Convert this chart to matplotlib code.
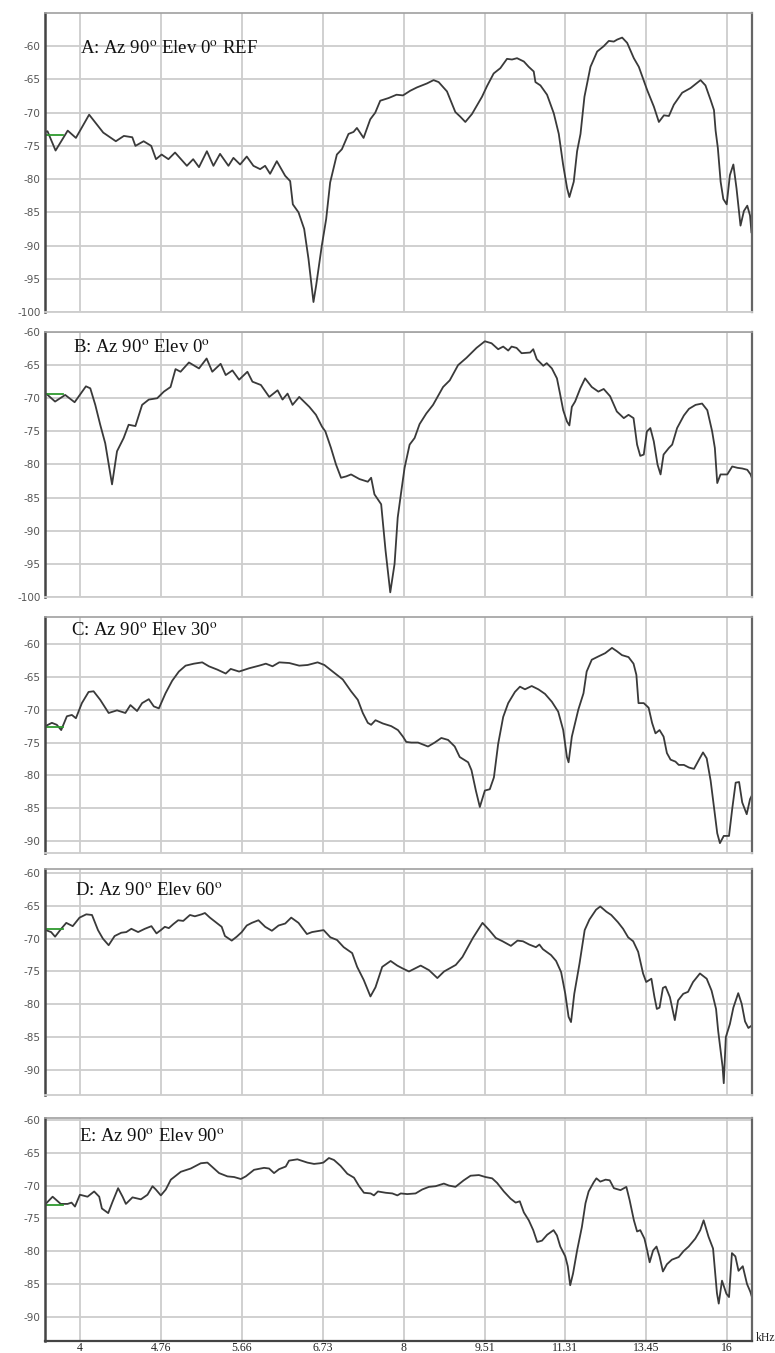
import matplotlib
matplotlib.use("Agg")
import matplotlib.pyplot as plt

# ---------------- data (frequency in kHz, level in dB) ----------------
freq_a = [3.711, 3.732, 3.797, 3.897, 3.966, 4.080, 4.205, 4.320, 4.395, 4.475, 4.505, 4.585,
          4.660, 4.708, 4.765, 4.835, 4.904, 5.030, 5.098, 5.162, 5.250, 5.324, 5.400, 5.498,
          5.557, 5.637, 5.718, 5.800, 5.884, 5.947, 6.011, 6.098, 6.208, 6.275, 6.311, 6.388,
          6.466, 6.526, 6.596, 6.634, 6.715, 6.778, 6.836, 6.935, 7.010, 7.110, 7.187, 7.239,
          7.343, 7.449, 7.529, 7.610, 7.747, 7.880, 7.990, 8.115, 8.232, 8.411, 8.531, 8.624,
          8.779, 8.937, 9.032, 9.131, 9.262, 9.463, 9.565, 9.702, 9.842, 9.983, 10.091, 10.20,
          10.35, 10.458, 10.571, 10.61, 10.724, 10.877, 11.035, 11.154, 11.257, 11.355, 11.41,
          11.517, 11.60, 11.685, 11.784, 11.937, 12.109, 12.28, 12.415, 12.549, 12.64, 12.775,
          12.913, 13.098, 13.239, 13.478, 13.673, 13.82, 13.97, 14.12, 14.27, 14.527, 14.79,
          15.11, 15.27, 15.44, 15.55, 15.605, 15.68, 15.774, 15.865, 15.98, 16.09, 16.21, 16.32,
          16.46, 16.58, 16.70, 16.80, 16.85]
db_a = [-72.9, -72.8, -75.7, -72.7, -73.8, -70.3, -73.0, -74.3, -73.5, -73.7, -75.0, -74.3,
        -75.0, -77.0, -76.3, -77.0, -76.0, -78.0, -77.0, -78.2, -75.8, -78.0, -76.2, -78.0,
        -76.8, -77.8, -76.6, -78.0, -78.5, -78.0, -79.2, -77.3, -79.5, -80.3, -83.8, -85.0,
        -87.5, -92.0, -98.5, -96.0, -90.0, -86.0, -80.5, -76.3, -75.5, -73.2, -72.9, -72.3,
        -73.8, -71.0, -70.0, -68.2, -67.8, -67.3, -67.4, -66.7, -66.2, -65.6, -65.1, -65.4,
        -66.8, -69.9, -70.6, -71.4, -70.2, -67.6, -66.0, -64.1, -63.3, -61.9, -62.0, -61.8,
        -62.3, -63.1, -63.8, -65.4, -65.9, -67.3, -70.1, -73.2, -77.8, -81.4, -82.7,
        -80.4, -75.8, -73.2, -67.6, -63.1, -60.8, -60.0, -59.2, -59.3, -59.0, -58.7,
        -59.5, -61.8, -63.1, -66.6, -69.1, -71.4, -70.4, -70.5, -68.8, -67.0, -66.3,
        -65.1, -65.9, -68.1, -69.6, -72.7, -75.3, -80.4, -83.0, -83.8, -79.4, -77.8, -81.4,
        -87.0, -84.8, -84.0, -85.5, -88.0]

freq_b = [3.727, 3.793, 3.876, 3.955, 4.052, 4.090, 4.134, 4.178, 4.223, 4.285, 4.331, 4.393,
          4.440, 4.505, 4.570, 4.636, 4.720, 4.788, 4.857, 4.909, 4.962, 5.052, 5.162, 5.247,
          5.311, 5.407, 5.466, 5.545, 5.625, 5.726, 5.788, 5.894, 6.000, 6.108, 6.173, 6.240,
          6.307, 6.398, 6.538, 6.631, 6.718, 6.766, 6.848, 6.922, 6.997, 7.073, 7.149, 7.279,
          7.410, 7.463, 7.516, 7.625, 7.697, 7.775, 7.847, 7.900, 7.960, 8.017, 8.104, 8.191,
          8.279, 8.399, 8.521, 8.706, 8.831, 8.990, 9.153, 9.352, 9.521, 9.658, 9.796, 9.902,
          10.009, 10.082, 10.19, 10.30, 10.49, 10.56, 10.64, 10.79, 10.87, 10.99, 11.11, 11.18,
          11.26, 11.35, 11.41, 11.47, 11.55, 11.68, 11.80, 11.97, 12.14, 12.28, 12.45, 12.63,
          12.82, 12.95, 13.09, 13.19, 13.28, 13.38, 13.47, 13.57, 13.67, 13.78, 13.87, 13.96,
          14.12, 14.22, 14.37, 14.58, 14.74, 14.95, 15.16, 15.33, 15.49, 15.58, 15.66, 15.77,
          16.00, 16.17, 16.35, 16.52, 16.70, 16.82, 16.88]
db_b = [-69.4, -70.5, -69.5, -70.6, -68.2, -68.5, -71.0, -74.0, -76.8, -83.0, -78.0, -76.0,
        -74.0, -74.2, -71.0, -70.2, -70.0, -69.0, -68.3, -65.6, -66.0, -64.6, -65.5, -64.0,
        -66.0, -64.8, -66.5, -65.8, -67.2, -66.0, -67.5, -68.0, -69.8, -68.8, -70.2, -69.3,
        -71.0, -69.8, -71.3, -72.5, -74.3, -75.0, -77.5, -80.0, -82.0, -81.8, -81.5, -82.2,
        -82.6, -82.0, -84.5, -86.0, -93.0, -99.3, -95.0, -88.0, -84.1, -80.5, -77.0, -76.0,
        -73.9, -72.3, -71.0, -68.3, -67.3, -65.0, -63.9, -62.4, -61.4, -61.7, -62.6, -62.2,
        -62.8, -62.2, -62.4, -63.2, -63.1, -62.6, -64.1, -65.1, -64.7, -65.5, -67.0, -69.2,
        -71.8, -73.5, -74.1, -71.3, -70.5, -68.5, -67.0, -68.3, -69.0, -68.6, -69.7, -72.0,
        -73.0, -72.5, -73.0, -77.0, -78.7, -78.5, -75.0, -74.5, -76.5, -80.0, -81.5, -78.5,
        -77.5, -77.0, -74.5, -72.6, -71.6, -71.0, -70.8, -71.8, -75.0, -77.5, -82.8, -81.5,
        -81.5, -80.3, -80.5, -80.6, -80.8, -81.5, -82.2]

freq_c = [3.715, 3.767, 3.807, 3.843, 3.890, 3.932, 3.966, 4.017, 4.075, 4.119, 4.178, 4.254,
          4.331, 4.409, 4.457, 4.521, 4.570, 4.636, 4.686, 4.737, 4.805, 4.874, 4.944, 5.016,
          5.106, 5.198, 5.273, 5.368, 5.466, 5.525, 5.625, 5.747, 5.872, 5.957, 6.042, 6.130,
          6.263, 6.398, 6.514, 6.655, 6.752, 6.873, 7.023, 7.149, 7.253, 7.331, 7.410, 7.463,
          7.533, 7.653, 7.791, 7.904, 7.989, 8.046, 8.133, 8.251, 8.430, 8.551, 8.674, 8.800,
          8.926, 9.022, 9.186, 9.252, 9.339, 9.419, 9.521, 9.622, 9.707, 9.796, 9.902, 10.009,
          10.154, 10.264, 10.375, 10.525, 10.676, 10.83, 10.99, 11.14, 11.26, 11.35, 11.39,
          11.47, 11.63, 11.76, 11.84, 11.97, 12.14, 12.32, 12.50, 12.63, 12.77, 12.95, 13.09,
          13.17, 13.23, 13.38, 13.52, 13.62, 13.72, 13.84, 13.96, 14.06, 14.17, 14.32, 14.42,
          14.58, 14.74, 14.90, 15.06, 15.19, 15.31, 15.44, 15.55, 15.66, 15.75, 15.88, 16.06,
          16.17, 16.29, 16.41, 16.52, 16.68, 16.80, 16.86]
db_c = [-72.5, -72.0, -72.3, -73.1, -71.0, -70.8, -71.3, -69.0, -67.3, -67.2, -68.5, -70.5,
        -70.1, -70.5, -69.3, -70.2, -69.0, -68.4, -69.5, -69.8, -67.5, -65.6, -64.2, -63.3,
        -63.0, -62.8, -63.4, -63.9, -64.5, -63.8, -64.2, -63.7, -63.3, -63.0, -63.4, -62.8,
        -62.9, -63.3, -63.2, -62.8, -63.2, -64.2, -65.4, -67.2, -68.5, -70.5, -72.0, -72.3,
        -71.6, -72.1, -72.5, -73.1, -74.1, -74.9, -75.0, -75.0, -75.6, -75.0, -74.3, -74.6,
        -75.6, -77.2, -78.0, -79.2, -82.3, -84.8, -82.3, -82.1, -80.3, -75.2, -71.1, -69.0,
        -67.3, -66.5, -66.9, -66.4, -66.9, -67.6, -68.8, -70.3, -73.1, -77.2, -78.0,
        -74.1, -70.0, -67.5, -64.2, -62.4, -61.9, -61.4, -60.6, -61.1, -61.7, -62.0, -63.0,
        -64.7, -69.0, -69.0, -69.7, -72.0, -73.6, -73.1, -74.1, -76.6, -77.6, -77.9, -78.4,
        -78.4, -78.8, -79.0, -77.6, -76.5, -77.4, -80.8, -84.8, -88.8, -90.3, -89.2, -89.2,
        -85.1, -81.1, -81.0, -84.1, -85.9, -83.6, -83.1]

freq_d = [3.718, 3.761, 3.793, 3.843, 3.885, 3.939, 3.997, 4.055, 4.105, 4.158, 4.202, 4.254,
          4.309, 4.371, 4.418, 4.466, 4.531, 4.597, 4.662, 4.713, 4.757, 4.798, 4.839, 4.885,
          4.937, 4.991, 5.063, 5.117, 5.191, 5.228, 5.284, 5.361, 5.419, 5.457, 5.537, 5.597,
          5.657, 5.718, 5.780, 5.863, 5.948, 6.034, 6.121, 6.209, 6.289, 6.388, 6.504, 6.576,
          6.741, 6.839, 6.937, 7.037, 7.166, 7.243, 7.346, 7.452, 7.533, 7.642, 7.781, 7.892,
          7.976, 8.093, 8.298, 8.448, 8.600, 8.724, 8.946, 9.074, 9.280, 9.473, 9.610, 9.747,
          9.889, 10.067, 10.21, 10.33, 10.47, 10.62, 10.70, 10.78, 10.97, 11.09, 11.21, 11.31,
          11.39, 11.45, 11.53, 11.66, 11.79, 11.91, 12.08, 12.19, 12.35, 12.48, 12.66, 12.80,
          12.94, 13.08, 13.22, 13.36, 13.45, 13.60, 13.69, 13.76, 13.84, 13.94, 14.02, 14.15,
          14.25, 14.30, 14.40, 14.56, 14.71, 14.87, 15.09, 15.31, 15.47, 15.62, 15.69, 15.77,
          15.84, 15.88, 15.95, 16.09, 16.21, 16.38, 16.50, 16.62, 16.74, 16.90]
db_d = [-68.7, -69.0, -69.7, -68.5, -67.6, -68.1, -66.8, -66.3, -66.4, -68.7, -70.0, -71.0,
        -69.6, -69.1, -69.0, -68.5, -69.0, -68.5, -68.1, -69.2, -68.7, -68.2, -68.4, -67.8,
        -67.2, -67.3, -66.4, -66.6, -66.3, -66.1, -66.8, -67.6, -68.2, -69.6, -70.3, -69.7,
        -69.0, -68.0, -67.6, -67.2, -68.2, -68.8, -68.0, -67.7, -66.8, -67.6, -69.3, -69.0,
        -68.7, -69.8, -70.2, -71.3, -72.2, -74.3, -76.3, -78.8, -77.4, -74.3, -73.4, -74.1,
        -74.5, -75.0, -74.1, -74.8, -76.0, -75.0, -74.0, -72.8, -69.9, -67.6, -68.7, -69.9,
        -70.4, -71.1, -70.3, -70.4, -70.9, -71.3, -70.9, -71.6, -72.5, -73.4, -75.1, -78.4,
        -81.9, -82.7, -78.4, -73.8, -68.7, -67.1, -65.6, -65.1, -65.9, -66.4, -67.5, -68.5,
        -69.8, -70.4, -72.0, -75.3, -76.6, -76.1, -78.9, -80.7, -80.5, -77.5, -77.3, -78.9,
        -81.2, -82.4, -79.4, -78.4, -78.1, -76.6, -75.3, -76.1, -77.9, -80.7, -84.0, -87.0,
        -89.5, -92.0, -85.0, -83.0, -80.5, -78.3, -79.9, -82.6, -83.6, -83.1]

freq_e = [3.717, 3.773, 3.839, 3.896, 3.929, 3.958, 4.000, 4.066, 4.124, 4.169, 4.193, 4.250,
          4.289, 4.341, 4.383, 4.414, 4.477, 4.558, 4.623, 4.673, 4.706, 4.757, 4.808, 4.860,
          4.965, 5.072, 5.182, 5.256, 5.331, 5.389, 5.486, 5.565, 5.646, 5.706, 5.808, 5.934,
          5.998, 6.062, 6.128, 6.216, 6.260, 6.373, 6.511, 6.604, 6.689, 6.737, 6.818, 6.892,
          6.990, 7.092, 7.194, 7.273, 7.349, 7.455, 7.508, 7.572, 7.699, 7.810, 7.894, 7.952,
          8.063, 8.208, 8.325, 8.446, 8.567, 8.721, 8.815, 8.940, 9.100, 9.234, 9.400, 9.534,
          9.671, 9.774, 9.916, 10.06, 10.17, 10.26, 10.35, 10.46, 10.56, 10.65, 10.76, 10.88,
          11.03, 11.11, 11.19, 11.31, 11.37, 11.43, 11.50, 11.60, 11.72, 11.81, 11.89, 12.02,
          12.09, 12.19, 12.33, 12.44, 12.55, 12.73, 12.89, 12.98, 13.10, 13.19, 13.28, 13.40,
          13.47, 13.55, 13.65, 13.75, 13.84, 13.94, 14.06, 14.21, 14.42, 14.57, 14.73, 14.94,
          15.10, 15.21, 15.37, 15.52, 15.60, 15.65, 15.71, 15.82, 15.97, 16.06, 16.16, 16.28,
          16.39, 16.54, 16.69, 16.81, 16.89]
db_e = [-72.8, -71.7, -72.8, -72.8, -72.6, -73.2, -71.4, -71.7, -70.9, -71.7, -73.5, -74.2,
        -72.5, -70.4, -71.7, -72.8, -71.8, -72.1, -71.4, -70.1, -70.6, -71.5, -70.6, -69.1,
        -67.9, -67.4, -66.6, -66.5, -67.4, -68.1, -68.6, -68.7, -69.0, -68.6, -67.6, -67.3,
        -67.4, -68.1, -67.5, -67.1, -66.2, -66.0, -66.5, -66.7, -66.6, -66.5, -65.8, -66.1,
        -67.0, -68.2, -68.8, -70.1, -71.1, -71.2, -71.5, -70.9, -71.1, -71.2, -71.5, -71.2,
        -71.3, -71.2, -70.6, -70.2, -70.1, -69.7, -70.0, -70.2, -69.2, -68.5, -68.4, -68.7,
        -68.9, -69.6, -70.9, -72.0, -72.6, -72.4, -74.1, -75.3, -76.8, -78.6, -78.4, -77.5,
        -76.8, -77.6, -79.3, -80.8, -82.3, -85.2, -83.4, -79.9, -76.3, -72.7, -70.9, -69.5,
        -68.9, -69.4, -69.1, -69.2, -70.4, -70.7, -70.2, -72.2, -75.3, -77.0, -76.8, -78.1,
        -79.7, -81.7, -79.9, -79.3, -80.8, -83.1, -82.0, -81.3, -80.9, -80.0, -79.3, -78.1,
        -76.8, -75.3, -77.8, -79.6, -83.9, -86.4, -88.0, -84.5, -86.5, -87.0, -80.3, -80.8,
        -83.0, -82.3, -85.0, -86.2, -87.3]

panel_freqs = [freq_a, freq_b, freq_c, freq_d, freq_e]
panel_dbs = [db_a, db_b, db_c, db_d, db_e]
titles = [r"A: Az 90$^{\mathrm{o}}$ Elev 0$^{\mathrm{o}}$ REF",
          r"B: Az 90$^{\mathrm{o}}$ Elev 0$^{\mathrm{o}}$",
          r"C: Az 90$^{\mathrm{o}}$ Elev 30$^{\mathrm{o}}$",
          r"D: Az 90$^{\mathrm{o}}$ Elev 60$^{\mathrm{o}}$",
          r"E: Az 90$^{\mathrm{o}}$ Elev 90$^{\mathrm{o}}$"]
green_levels = [-73.3, -69.3, -72.7, -68.5, -72.9]
green_span = [3.712, 3.86]
ylims = [(-100, -55), (-100, -60), (-91.8, -55.9), (-93.8, -59.4), (-93.7, -59.7)]
yticks = [[-100, -95, -90, -85, -80, -75, -70, -65, -60],
          [-100, -95, -90, -85, -80, -75, -70, -65, -60],
          [-90, -85, -80, -75, -70, -65, -60],
          [-90, -85, -80, -75, -70, -65, -60],
          [-90, -85, -80, -75, -70, -65, -60]]
xticks = [4, 4.757, 5.657, 6.727, 8, 9.514, 11.314, 13.454, 16]
xticklabels = ["4", "4.76", "5.66", "6.73", "8", "9.51", "11.31", "13.45", "16"]
xlim = (3.712, 16.87)

# ---------------- layout (pixels) ----------------
W, H = 775, 1353
left_px, right_px = 45, 752
panel_tb = [(13, 312), (332, 597), (617, 853), (869, 1095), (1118, 1341)]
title_pos = [(80, 54), (73, 353), (71, 636), (75, 896), (79, 1142)]

plt.rcParams["mathtext.fontset"] = "stix"
fig = plt.figure(figsize=(W / 100, H / 100), dpi=100)
fig.patch.set_facecolor("white")

for i in range(5):
    top, bot = panel_tb[i]
    ax = fig.add_axes([left_px / W, 1 - bot / H, (right_px - left_px) / W, (bot - top) / H])
    ax.set_xscale("log")
    ax.set_xlim(*xlim)
    ax.set_ylim(*ylims[i])
    ax.set_axisbelow(True)
    ax.set_xticks(xticks)
    ax.xaxis.set_minor_locator(matplotlib.ticker.NullLocator())
    ax.set_yticks(yticks[i])
    ax.set_yticklabels([str(v) for v in yticks[i]], fontsize=7.5, color="#555555",
                       family="DejaVu Sans")
    ax.tick_params(axis="y", length=0, pad=3)
    ax.grid(True, which="major", color="#cdcdcd", lw=1.3)
    if i == 4:
        ax.set_xticklabels(xticklabels, fontsize=8.5, family="Liberation Serif", color="#222222")
        ax.tick_params(axis="x", length=0, pad=1)
    else:
        ax.set_xticklabels([])
        ax.tick_params(axis="x", length=0)
    ax.plot(panel_freqs[i], panel_dbs[i], color="#3a3a3a", lw=1.3, solid_joinstyle="round")
    ax.plot(green_span, [green_levels[i], green_levels[i]], color="#2e9a2e", lw=1.3)
    ax.spines["left"].set_color("#444444")
    ax.spines["left"].set_linewidth(1.8)
    ax.spines["right"].set_color("#666666")
    ax.spines["right"].set_linewidth(1.6)
    ax.spines["top"].set_color("#a0a0a0")
    ax.spines["top"].set_linewidth(1.2)
    if i == 4:
        ax.spines["bottom"].set_color("#444444")
        ax.spines["bottom"].set_linewidth(1.6)
    else:
        ax.spines["bottom"].set_color("#cdcdcd")
        ax.spines["bottom"].set_linewidth(1.3)
    tx, ty = title_pos[i]
    fig.text(tx / W, 1 - ty / H, titles[i], fontsize=13.5, family="Liberation Serif",
             va="baseline", ha="left", color="#111111")

fig.text(756 / W, 1 - 1338 / H, "kHz", fontsize=8.5, family="Liberation Serif",
         va="center", ha="left", color="#222222")

fig.savefig("out.png", dpi=100, facecolor="white")
